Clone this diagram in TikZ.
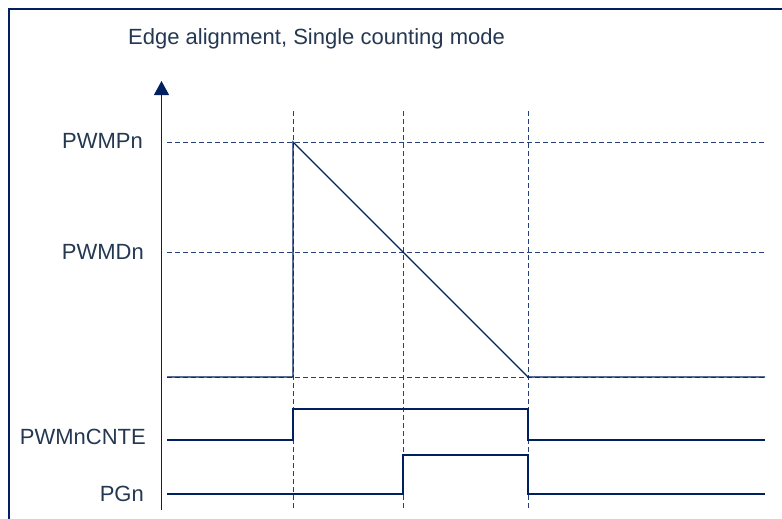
\documentclass[tikz,border=0pt]{standalone}
\usepackage{fontspec}
\setmainfont{Liberation Sans}
\usetikzlibrary{arrows.meta}
\definecolor{navy}{RGB}{0,32,96}
\definecolor{txt}{RGB}{36,56,82}
\begin{document}
\begin{tikzpicture}[x=1pt,y=-1pt,
  sig/.style={draw=navy,line width=1.1pt},
  gridline/.style={draw=navy!85!white,line width=1pt,dash pattern=on 5pt off 3pt},
  framel/.style={draw=navy,line width=1.5pt},
  lab/.style={text=txt,font=\fontsize{22}{24}\selectfont,inner sep=0pt,anchor=east}]
\useasboundingbox (0,0) rectangle (782,519);
% frame
\coordinate (f1) at (9,519);
\coordinate (f2) at (782,9);
\draw[framel] (f1) |- (f2);
% title
\node[text=txt,font=\fontsize{22}{24}\selectfont,inner sep=0pt,anchor=base west] (title) at (128,45) {Edge alignment, Single counting mode};
% axis
\coordinate (ax0) at (161.5,510);
\coordinate (ax1) at (161.5,81);
\draw[sig,line width=1pt,-{Triangle[width=15pt,length=14pt]}] (ax0) -- (ax1);
% grid coordinates
\coordinate (hP0) at (167,142); \coordinate (hP1) at (765,142);
\coordinate (hD0) at (167,252); \coordinate (hD1) at (765,252);
\coordinate (hZ0) at (167,377); \coordinate (hZ1) at (765,377);
\coordinate (v10) at (293,111); \coordinate (v11) at (293,510);
\coordinate (v20) at (403,111); \coordinate (v21) at (403,510);
\coordinate (v30) at (528,111); \coordinate (v31) at (528,510);
\draw[gridline] (hP0) -- (hP1);
\draw[gridline] (hD0) -- (hD1);
\draw[gridline] (hZ0) -- (hZ1);
\draw[gridline] (v10) -- (v11);
\draw[gridline] (v20) -- (v21);
\draw[gridline] (v30) -- (v31);
% labels
\node[lab] (lP) at (143,141) {PWMPn};
\node[lab] (lD) at (144,252) {PWMDn};
\node[lab] (lC) at (146,437) {PWMnCNTE};
\node[lab] (lG) at (144,494) {PGn};
% counter sawtooth
\coordinate (s0) at (167,377);
\coordinate (s1) at (293,377);
\coordinate (s2) at (293,142);
\coordinate (s3) at (528,377);
\coordinate (s4) at (765,377);
\draw[sig] (s0) -- (s1) -- (s2) -- (s3) -- (s4);
% PWMnCNTE
\coordinate (c0) at (167,440);
\coordinate (c1) at (293,440);
\coordinate (c2) at (293,409);
\coordinate (c3) at (528,409);
\coordinate (c4) at (528,440);
\coordinate (c5) at (765,440);
\draw[sig] (c0) -- (c1) -- (c2) -- (c3) -- (c4) -- (c5);
% PGn
\coordinate (g0) at (167,494);
\coordinate (g1) at (403,494);
\coordinate (g2) at (403,455);
\coordinate (g3) at (528,455);
\coordinate (g4) at (528,494);
\coordinate (g5) at (765,494);
\draw[sig] (g0) -- (g1) -- (g2) -- (g3) -- (g4) -- (g5);
\end{tikzpicture}
\end{document}
